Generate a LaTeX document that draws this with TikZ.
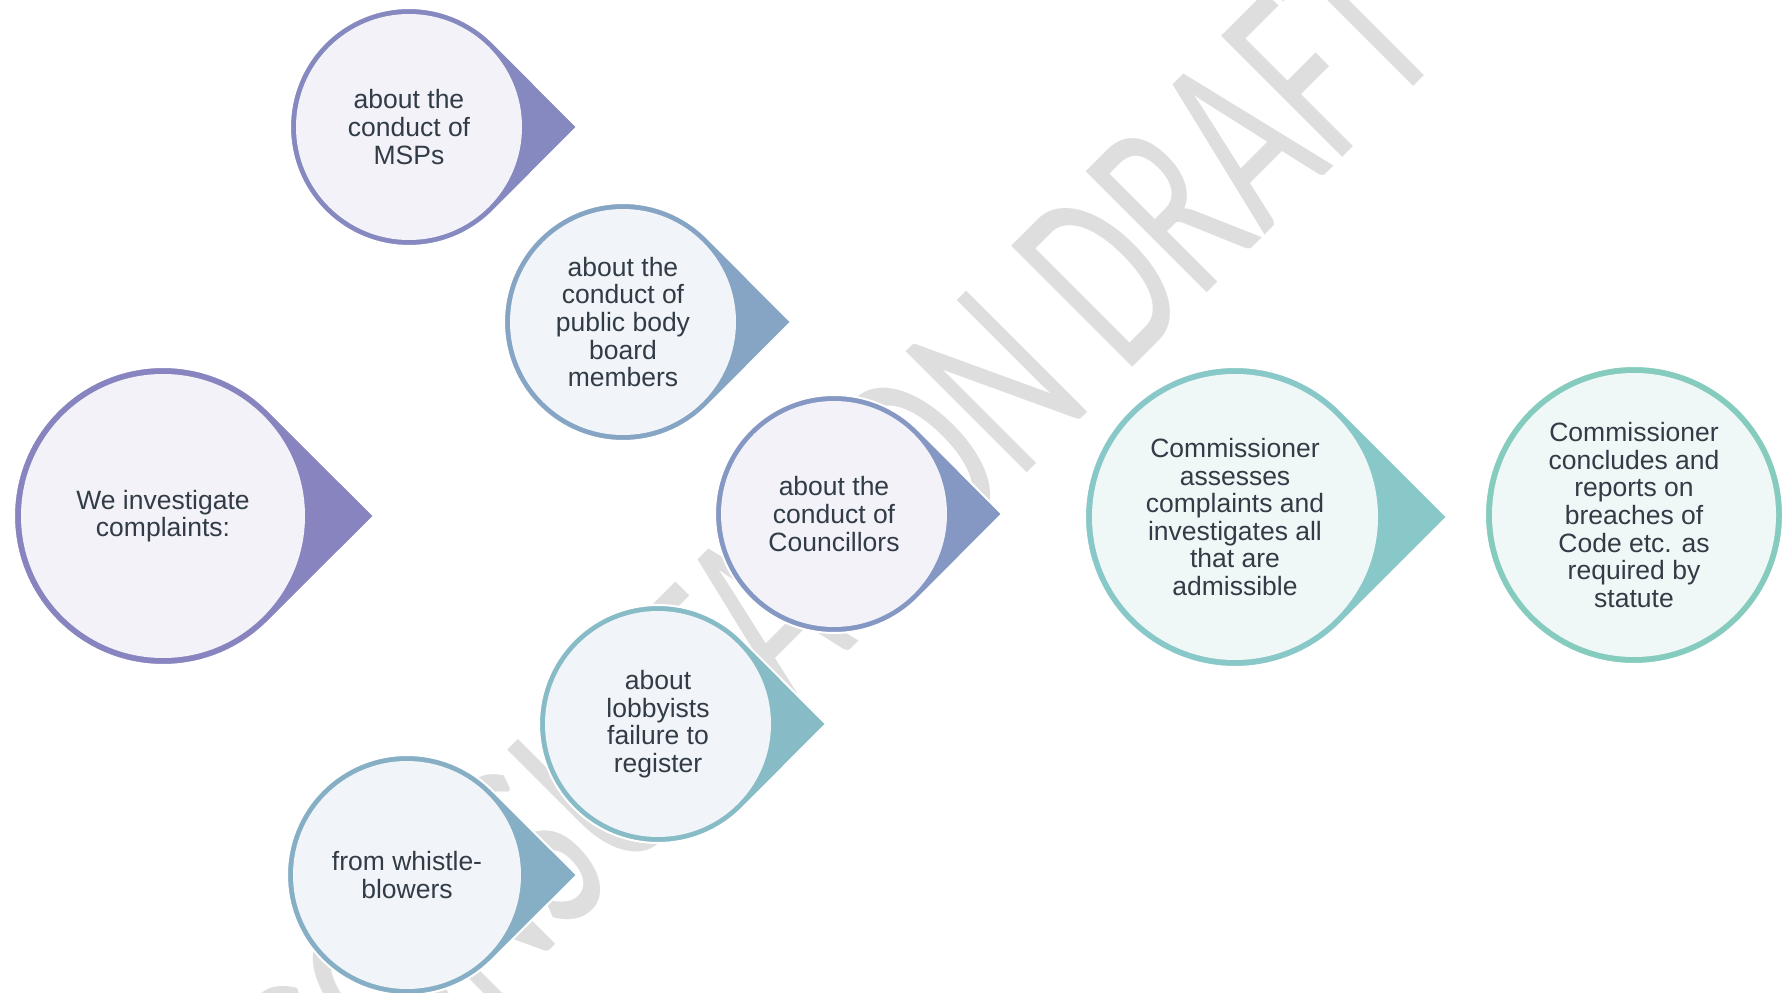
\documentclass[tikz,border=0pt]{standalone}
\usepackage{fontspec}
\setmainfont{Liberation Sans}
\newfontfamily\draftfont{Carlito}
\definecolor{ink}{RGB}{50,60,70}
\definecolor{draftgray}{RGB}{222,222,222}
\definecolor{dropInvest}{RGB}{136,132,191}
\definecolor{dropMsp}{RGB}{133,137,191}
\definecolor{dropBoard}{RGB}{134,165,196}
\definecolor{dropCouncil}{RGB}{133,152,196}
\definecolor{dropLobby}{RGB}{135,188,199}
\definecolor{dropWhistle}{RGB}{134,175,198}
\definecolor{dropAssess}{RGB}{137,200,200}
\definecolor{dropReport}{RGB}{134,204,190}
\definecolor{paleViolet}{RGB}{242,242,248}
\definecolor{paleBlue}{RGB}{241,244,248}
\definecolor{paleTeal}{RGB}{240,248,247}

\begin{document}
\begin{tikzpicture}[
        x=0.5pt, y=0.5pt,
        words/.style={align=center, text=ink, inner sep=0pt, font=\fontsize{13.25}{13.8}\selectfont},
        dropedge/.style={draw=white, line width=1pt},
        draft/.style={text=draftgray, anchor=base, inner sep=0pt, font=\draftfont\fontsize{133.5}{140}\selectfont}
    ]
        \useasboundingbox (0,0) rectangle (1782,992);

        % Watermark behind everything
        \begin{scope}[shift={(896,388)}]
            \node[draft, rotate=45, xscale=0.64] (draft) at (0,0) {CONSULTATION DRAFT};
        \end{scope}

        % Start
        \begin{scope}[shift={(163,476)}]
            \fill[dropInvest, dropedge] (45:149) -- (211,0) -- (-45:149) arc[start angle=-45, end angle=-315, radius=149] -- cycle;
            \fill[paleViolet] (0,0) circle[radius=142];
            \node[words] (invest) at (0,0) {We investigate\\complaints:};
        \end{scope}

        % MSPs
        \begin{scope}[shift={(409,865)}]
            \fill[dropMsp, dropedge] (45:119) -- (168,0) -- (-45:119) arc[start angle=-45, end angle=-315, radius=119] -- cycle;
            \fill[paleViolet] (0,0) circle[radius=113];
            \node[words] (msps) at (0,0) {about the\\conduct of\\MSPs};
        \end{scope}

        % Public bodies
        \begin{scope}[shift={(623,670)}]
            \fill[dropBoard, dropedge] (45:119) -- (168,0) -- (-45:119) arc[start angle=-45, end angle=-315, radius=119] -- cycle;
            \fill[paleBlue] (0,0) circle[radius=113];
            \node[words] (board) at (0,0) {about the\\conduct of\\public body\\board\\members};
        \end{scope}

        % Councillors
        \begin{scope}[shift={(834,478)}]
            \fill[dropCouncil, dropedge] (45:119) -- (168,0) -- (-45:119) arc[start angle=-45, end angle=-315, radius=119] -- cycle;
            \fill[paleViolet] (0,0) circle[radius=113];
            \node[words] (council) at (0,0) {about the\\conduct of\\Councillors};
        \end{scope}

        % Lobbyists
        \begin{scope}[shift={(658,268)}]
            \fill[dropLobby, dropedge] (45:119) -- (168,0) -- (-45:119) arc[start angle=-45, end angle=-315, radius=119] -- cycle;
            \fill[paleBlue] (0,0) circle[radius=113];
            \node[words] (lobby) at (0,0) {about\\lobbyists\\failure to\\register};
        \end{scope}

        % Whistleblowers
        \begin{scope}[shift={(407,117)}]
            \fill[dropWhistle, dropedge] (45:120) -- (170,0) -- (-45:120) arc[start angle=-45, end angle=-315, radius=120] -- cycle;
            \fill[paleBlue] (0,0) circle[radius=114];
            \node[words] (whistle) at (0,0) {from whistle-\\blowers};
        \end{scope}

        % Assessment
        \begin{scope}[shift={(1235,475)}]
            \fill[dropAssess, dropedge] (45:150) -- (212,0) -- (-45:150) arc[start angle=-45, end angle=-315, radius=150] -- cycle;
            \fill[paleTeal] (0,0) circle[radius=143];
            \node[words] (assess) at (0,0) {Commissioner\\assesses\\complaints and\\investigates all\\that are\\admissible};
        \end{scope}

        % Report
        \begin{scope}[shift={(1634,477)}]
            \fill[dropReport, dropedge] (0,0) circle[radius=149];
            \fill[paleTeal] (0,0) circle[radius=142];
            \node[words] (report) at (0,0) {Commissioner\\concludes and\\reports on\\breaches of\\Code etc. as\\required by\\statute};
        \end{scope}
    \end{tikzpicture}
\end{document}
